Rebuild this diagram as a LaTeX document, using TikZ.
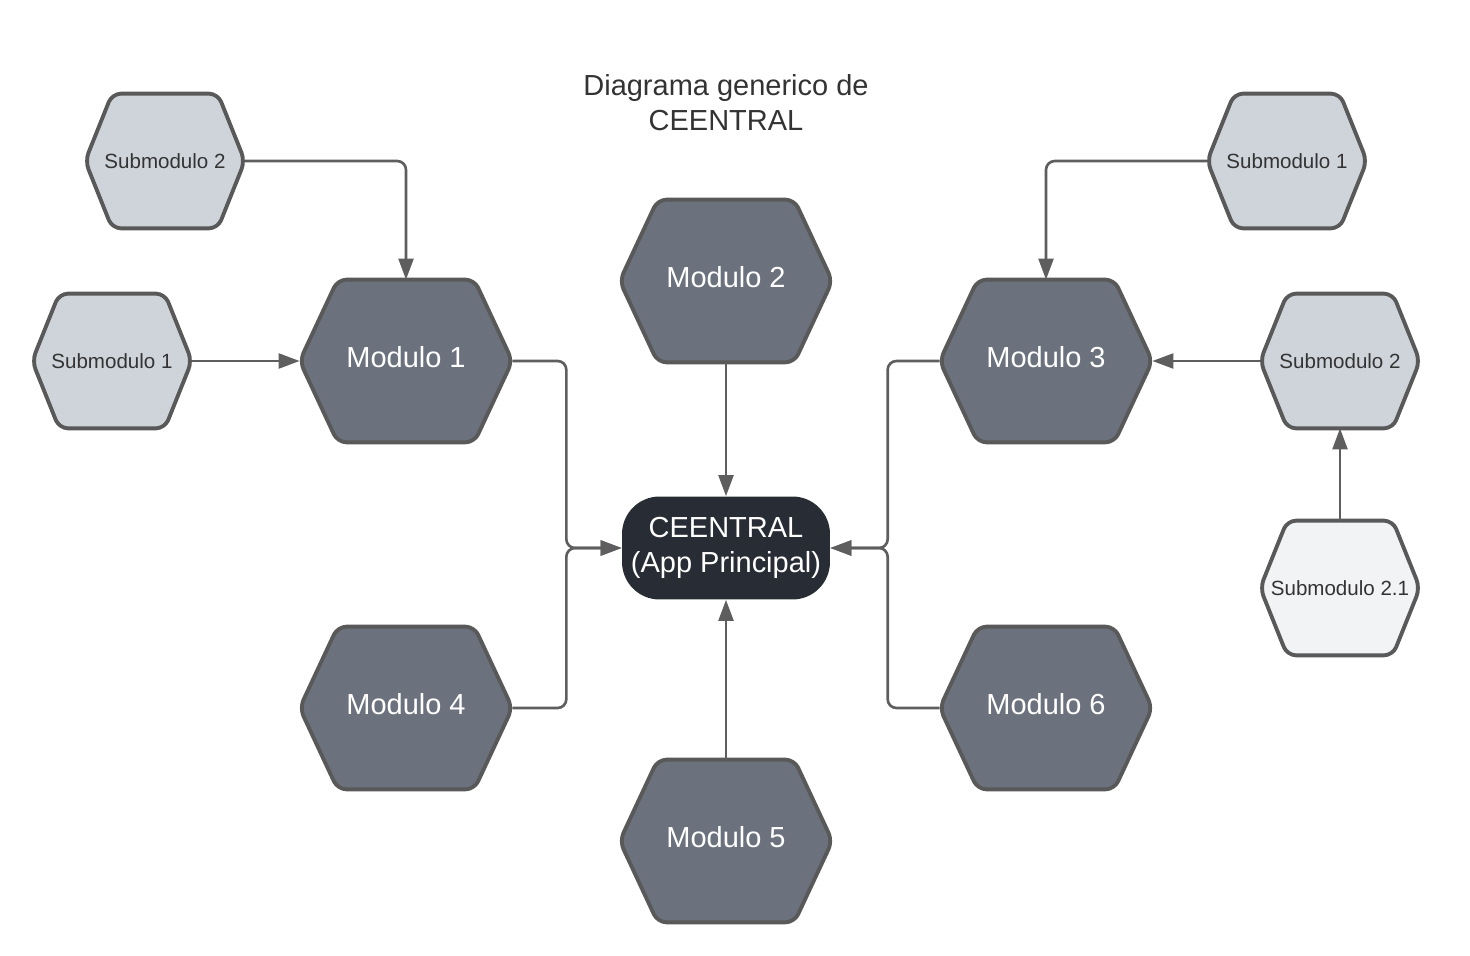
\documentclass[tikz,border=0pt]{standalone}
\usepackage{fontspec}
\setmainfont{Liberation Sans}
\usetikzlibrary{arrows.meta,backgrounds}
\definecolor{modfill}{RGB}{108,114,125}
\definecolor{subfill}{RGB}{207,212,219}
\definecolor{subsubfill}{RGB}{242,243,245}
\definecolor{mainfill}{RGB}{40,44,52}
\definecolor{edgegray}{RGB}{89,89,89}
\definecolor{linegray}{RGB}{94,94,94}
\begin{document}
\begin{tikzpicture}
[x=0.02cm,y=-0.02cm]
\tikzset{modhex/.style={minimum width=4.24cm,minimum height=3.24cm,inner sep=0pt,text depth=0.16cm,text=white,font=\fontsize{16.5}{20}\selectfont}}
\tikzset{subhex/.style={minimum width=3.18cm,minimum height=2.68cm,inner sep=0pt,text=black!80,font=\fontsize{11.7}{14}\selectfont}}
\tikzset{hexline/.style={draw=edgegray,line width=2.2pt,rounded corners=5pt}}
\tikzset{conn/.style={draw=linegray,line width=1.5pt,rounded corners=5pt,-{Triangle[length=12pt,width=8.5pt]}}}
\useasboundingbox (0,0) rectangle (1470,956);

\node [align=center,text=black!80,font=\fontsize{16.5}{20}\selectfont] (title) at (726,103) {Diagrama generico de\\CEENTRAL};

\node [modhex] (m1) at (406,361) {Modulo 1};
\node [modhex] (m2) at (726,281) {Modulo 2};
\node [modhex] (m3) at (1046,361) {Modulo 3};
\node [modhex] (m4) at (406,708) {Modulo 4};
\node [modhex] (m5) at (726,841) {Modulo 5};
\node [modhex] (m6) at (1046,708) {Modulo 6};
\node [subhex] (sl2) at (165,161) {Submodulo 2};
\node [subhex] (sl1) at (112,361) {Submodulo 1};
\node [subhex] (sr1) at (1287,161) {Submodulo 1};
\node [subhex] (sr2) at (1340,361) {Submodulo 2};
\node [subhex] (s21) at (1340,588) {Submodulo 2.1};
\node [fill=mainfill,rounded corners=0.75cm,minimum width=4.16cm,minimum height=2.06cm,align=center,text=white,font=\fontsize{16.5}{20}\selectfont] (c) at (726,548) {CEENTRAL\\(App Principal)};

\begin{scope}[on background layer]
\foreach \n/\d/\col in {m1/0.76cm/modfill,m2/0.76cm/modfill,m3/0.76cm/modfill,m4/0.76cm/modfill,m5/0.76cm/modfill,m6/0.76cm/modfill,sl2/0.54cm/subfill,sl1/0.54cm/subfill,sr1/0.54cm/subfill,sr2/0.54cm/subfill,s21/0.54cm/subsubfill}
	\filldraw [hexline,fill=\col] (\n.west) -- ([xshift=\d]\n.north west) -- ([xshift=-\d]\n.north east) -- (\n.east) -- ([xshift=-\d]\n.south east) -- ([xshift=\d]\n.south west) -- cycle;
\end{scope}

\foreach \from/\to in {sl1.east/m1.west,m2.south/c.north,m5.north/c.south,sr2.west/m3.east,s21.north/sr2.south}
	\draw [conn] (\from) -- (\to);

\draw [conn] (sl2.east) -| (m1.north);
\draw [conn] (sr1.west) -| (m3.north);
\draw [conn] (m1.east) -- ++(54,0) |- (c.west);
\draw [conn] (m4.east) -- ++(54,0) |- (c.west);
\draw [conn] (m3.west) -- ++(-52,0) |- (c.east);
\draw [conn] (m6.west) -- ++(-52,0) |- (c.east);

\end{tikzpicture}
\end{document}
